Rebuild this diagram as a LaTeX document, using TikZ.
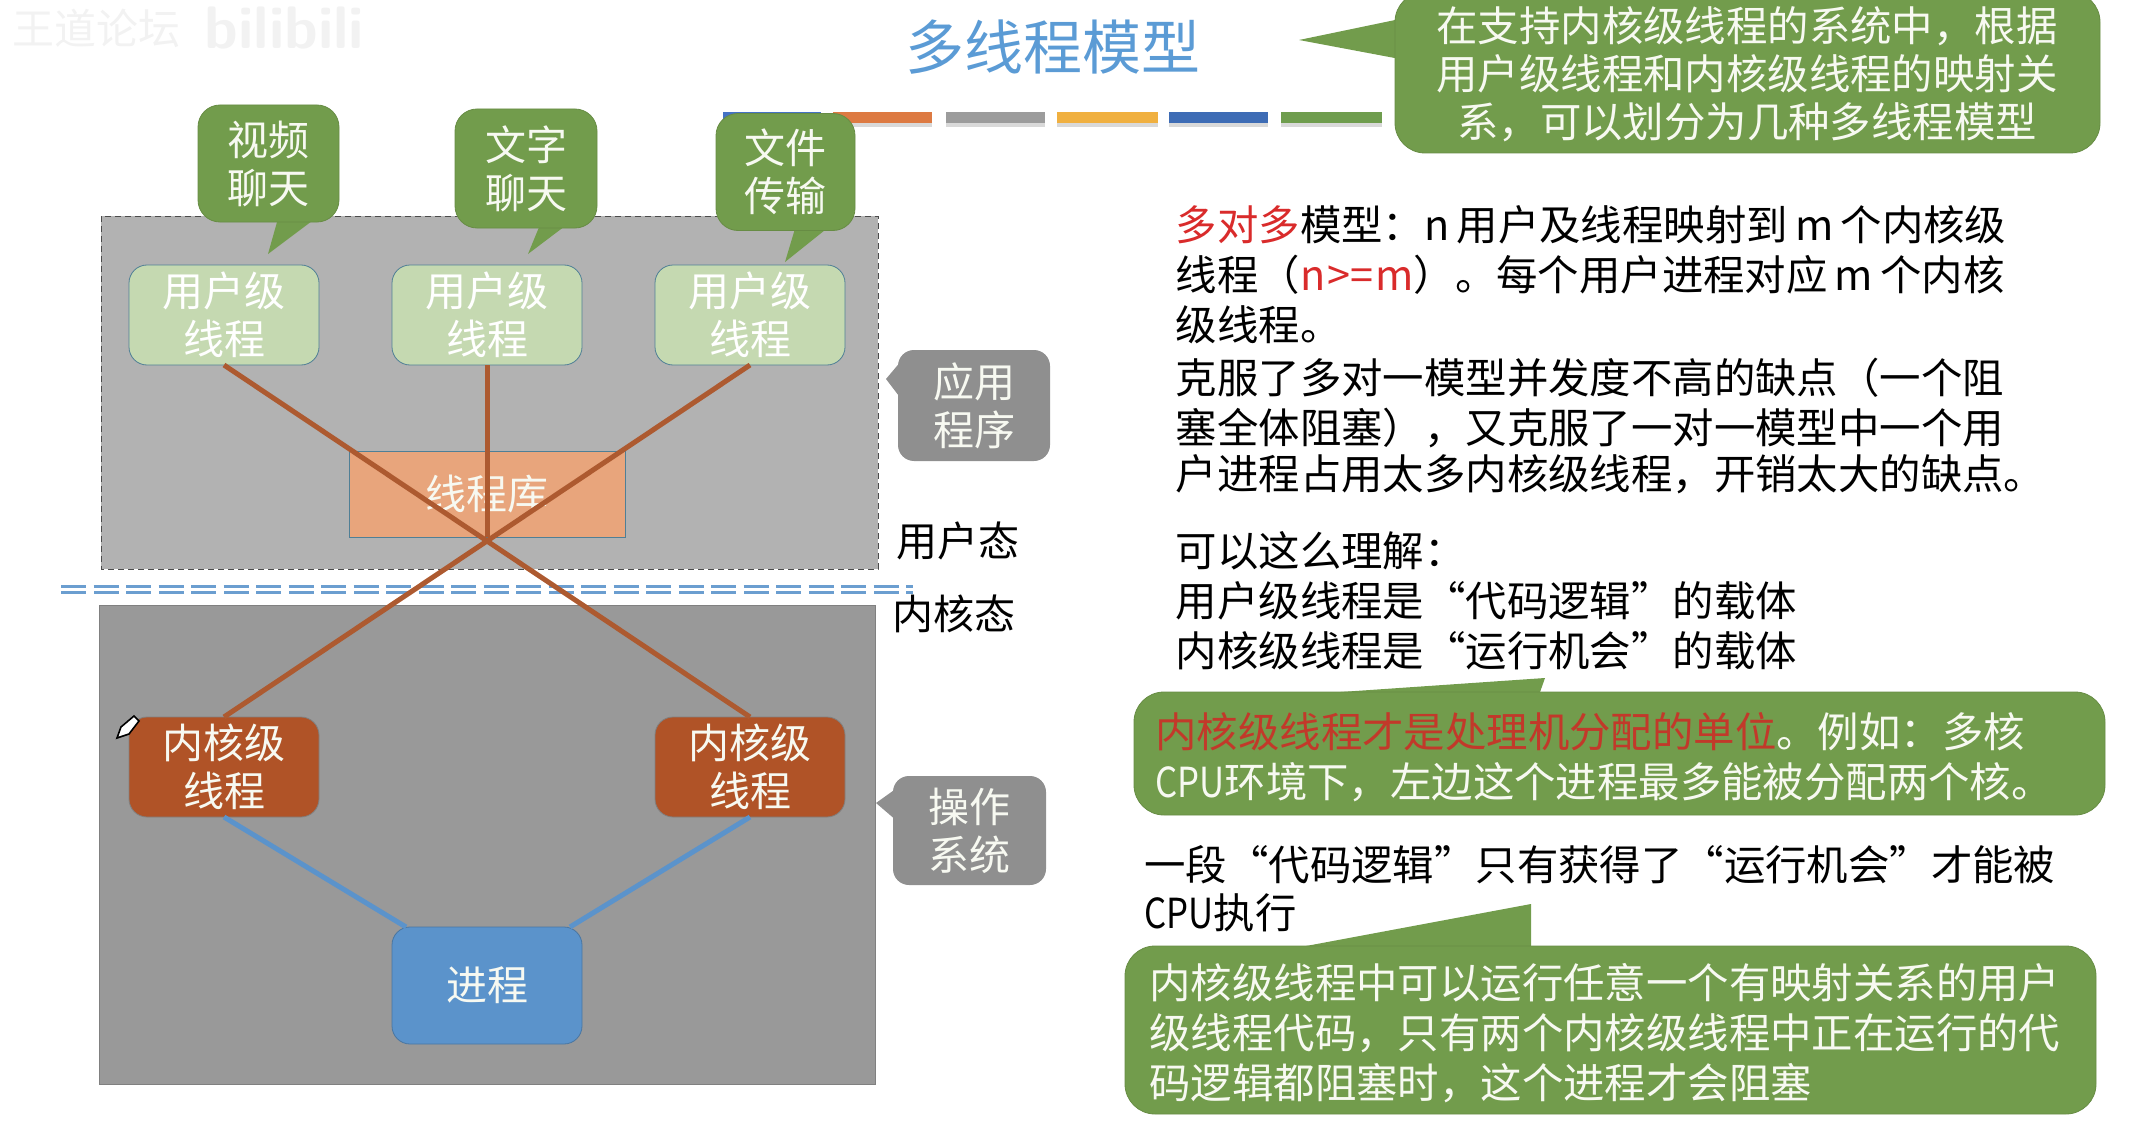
\documentclass[tikz,border=0pt]{standalone}
\usepackage{fontspec}
\setmainfont{Noto Sans CJK SC}
\usetikzlibrary{positioning, calc, shadows}

\definecolor{titleblue}{HTML}{5B9BD5}
\definecolor{calloutgreen}{HTML}{729C4C}
\definecolor{userfill}{HTML}{C5D9B1}
\definecolor{boxline}{HTML}{4F7F96}
\definecolor{libfill}{HTML}{E8A57C}
\definecolor{kernelfill}{HTML}{B05327}
\definecolor{procfill}{HTML}{5B93CB}
\definecolor{linkbrown}{HTML}{AD5A30}
\definecolor{uppergray}{HTML}{B2B2B2}
\definecolor{lowergray}{HTML}{999999}
\definecolor{tipgray}{HTML}{8F8F8F}
\definecolor{softwhite}{HTML}{F7F9F1}
\definecolor{alertred}{HTML}{D92B2B}
\definecolor{darkred}{HTML}{C2392A}
\newcommand{\cpuword}{\scalebox{0.84}[1]{CPU}}
\newcommand{\bodyfont}{\fontsize{20.7}{25}\selectfont\spaceskip=3.6pt\relax}

\begin{document}
\begin{tikzpicture}[
    x=0.5pt, y=-0.5pt,
    node distance=36.5pt,
    font=\fontsize{20.5}{24}\selectfont,
    % Estilos de cajas
    threadbox/.style={rectangle, rounded corners=9pt, outer sep=0pt, inner sep=0pt, align=center, minimum width=95pt, minimum height=50pt},
    userbox/.style={threadbox, draw=boxline, fill=userfill, text=white},
    kernelbox/.style={threadbox, draw=gray, fill=kernelfill, text=softwhite},
    chatbox/.style={rectangle, rounded corners=11pt, draw=calloutgreen!90!black, fill=calloutgreen, text=softwhite, align=center, inner sep=0pt},
    notebox/.style={chatbox, rounded corners=15pt},
    tipbox/.style={rectangle, rounded corners=8pt, fill=tipgray, text=softwhite, align=center, inner sep=0pt},
    bodytext/.style={anchor=west, align=left, inner sep=0pt, text=black, font=\bodyfont},
    notetext/.style={bodytext, text=softwhite},
    barline/.style={drop shadow={shadow xshift=0pt, shadow yshift=-2pt, opacity=0.3}},
    faintmark/.style={text=black!5, inner sep=0pt},
    linkline/.style={line width=2.5pt, linkbrown},
    procline/.style={line width=2.5pt, procfill}
]
\useasboundingbox (0,0) rectangle (2138,1129);

% -------------------------
% Marca de agua y titulo
% -------------------------
\node[faintmark, font=\fontsize{21}{24}\selectfont] (mark) at (96,28) {王道论坛};
\node[faintmark, font=\fontsize{30}{32}\selectfont\bfseries\sffamily, right=12pt of mark] (markb) {bilibili};
\node[text=titleblue, font=\fontsize{29.5}{32}\selectfont] (title) at (1053,47) {多线程模型};

% Barras de colores
\foreach \xa/\xb/\barcolor in {723/821/4472C4, 833/932/DD7A42, 946/1045/9C9C9C, 1057/1158/F0B040, 1169/1268/3E6CB5, 1281/1382/6F9D4E} {
    \definecolor{thisbar}{HTML}{\barcolor}
    \fill[thisbar, barline] (\xa,112) rectangle (\xb,123);
}

% -------------------------
% Fondos
% -------------------------
\draw[densely dashed, very thin, black!70, fill=uppergray] (101,216) rectangle (878,569);
\draw[thin, black!50, fill=lowergray] (99,605) rectangle (875,1084);
\coordinate (divleft) at (61,589);
\coordinate (divright) at (913,589);
\draw[double=white, double distance=1.5pt, line width=1.5pt, procfill!90!white, dash pattern=on 12.5pt off 3.75pt] (divleft) -- (divright);

% -------------------------
% Hilos de usuario
% -------------------------
\node[userbox] (user1) at (224,315) {用户级\\线程};
\node[userbox, right=of user1] (user2) {用户级\\线程};
\node[userbox, right=of user2] (user3) {用户级\\线程};

\node[rectangle, draw=boxline, fill=libfill, text=softwhite, minimum width=138pt, minimum height=43pt, outer sep=0pt, inner sep=0pt, below=43pt of user2] (lib) {线程库};

% Aplicaciones
\fill[calloutgreen] (279,215) -- (268,254) -- (320,215) -- cycle;
\node[chatbox, minimum width=70.5pt, minimum height=58.5pt] (video) at (268.5,163.5) {视频\\聊天};
\fill[calloutgreen] (542,220) -- (528,254) -- (573,220) -- cycle;
\node[chatbox, minimum width=71pt, minimum height=59.5pt] (text) at (526,168.5) {文字\\聊天};
\fill[calloutgreen] (797,222) -- (785,262) -- (835,222) -- cycle;
\node[chatbox, minimum width=69.5pt, minimum height=58.5pt] (file) at (785.5,172) {文件\\传输};

% -------------------------
% Hilos de nucleo y proceso
% -------------------------
\node[kernelbox, below=176pt of user1] (kernel1) {内核级\\线程};
\node[kernelbox, below=176pt of user3] (kernel2) {内核级\\线程};
\node[threadbox, draw=procfill!80!black, fill=procfill, text=softwhite, minimum height=58.5pt, below=281pt of user2] (proc) {进程};

% Conexiones
\draw[linkline] (user1.south) -- (kernel2.north);
\draw[linkline] (user3.south) -- (kernel1.north);
\draw[linkline] (user2.south) -- (lib.south);
\draw[procline] (kernel1.south) -- ($(proc.north west)+(14,0)$);
\draw[procline] (kernel2.south) -- ($(proc.north east)+(-12,0)$);

% Lapiz
\filldraw[fill=white, draw=black, thick] (117,738) -- (121,727) -- (134,716) -- (139,721) -- (129,734) -- cycle;

% -------------------------
% Etiquetas laterales
% -------------------------
\fill[tipgray] (886,379) -- (902,360) -- (902,400) -- cycle;
\node[tipbox, minimum width=76pt, minimum height=55.5pt] (apptip) at (974,405.5) {应用\\程序};
\fill[tipgray] (876,803) -- (897,788) -- (897,821) -- cycle;
\node[tipbox, minimum width=76.5pt, minimum height=54.5pt] (ostip) at (969.5,830.5) {操作\\系统};
\node[inner sep=0pt] (userstate) at (958,541) {用户态};
\node[inner sep=0pt] (kernelstate) at (954,614) {内核态};

% -------------------------
% Nota superior
% -------------------------
\fill[calloutgreen] (1299,40) -- (1400,19) -- (1400,59) -- cycle;
\node[notebox, minimum width=352.5pt, minimum height=80.5pt] (topnote) at (1747.5,72.5) {};
\node[align=center, text=softwhite, font=\fontsize{20.7}{24}\selectfont, inner sep=0pt] (toptext) at (1747,74) {在支持内核级线程的系统中，根据\\用户级线程和内核级线程的映射关\\系，可以划分为几种多线程模型};

% -------------------------
% Texto derecha
% -------------------------
\node[bodytext] (para1) at (1175.5,275) {\textcolor{alertred}{多对多}模型：n 用户及线程映射到 m 个内核级\\线程（\textcolor{alertred}{\spaceskip=1pt\relax n >= m}）。每个用户进程对应 m 个内核\\级线程。};
\node[bodytext] (para2) at (1175.5,426) {克服了多对一模型并发度不高的缺点（一个阻\\塞全体阻塞），又克服了一对一模型中一个用\\[-2pt]户进程占用太多内核级线程，开销太大的缺点。};
\node[bodytext] (para3) at (1175.5,601) {可以这么理解：\\用户级线程是“代码逻辑”的载体\\内核级线程是“运行机会”的载体};

% Notas verdes
\fill[calloutgreen] (1297,695) -- (1545,678) -- (1539,695) -- cycle;
\node[notebox, minimum width=485.5pt, minimum height=61.5pt] (note1) at (1619.5,753.5) {};
\node[notetext] (note1text) at (1155,757) {\textcolor{darkred}{内核级线程才是处理机分配的单位}。例如：多核\\\cpuword 环境下，左边这个进程最多能被分配两个核。};

\node[bodytext] (para4) at (1144,889) {一段“代码逻辑”只有获得了“运行机会”才能被\\[-1pt]\cpuword 执行};

\fill[calloutgreen] (1290,949) -- (1531,904) -- (1531,949) -- cycle;
\node[notebox, minimum width=485.5pt, minimum height=84pt] (note2) at (1610.5,1030) {};
\node[notetext] (note2text) at (1149,1033) {内核级线程中可以运行任意一个有映射关系的用户\\级线程代码，只有两个内核级线程中正在运行的代\\码逻辑都阻塞时，这个进程才会阻塞};

\end{tikzpicture}
\end{document}
